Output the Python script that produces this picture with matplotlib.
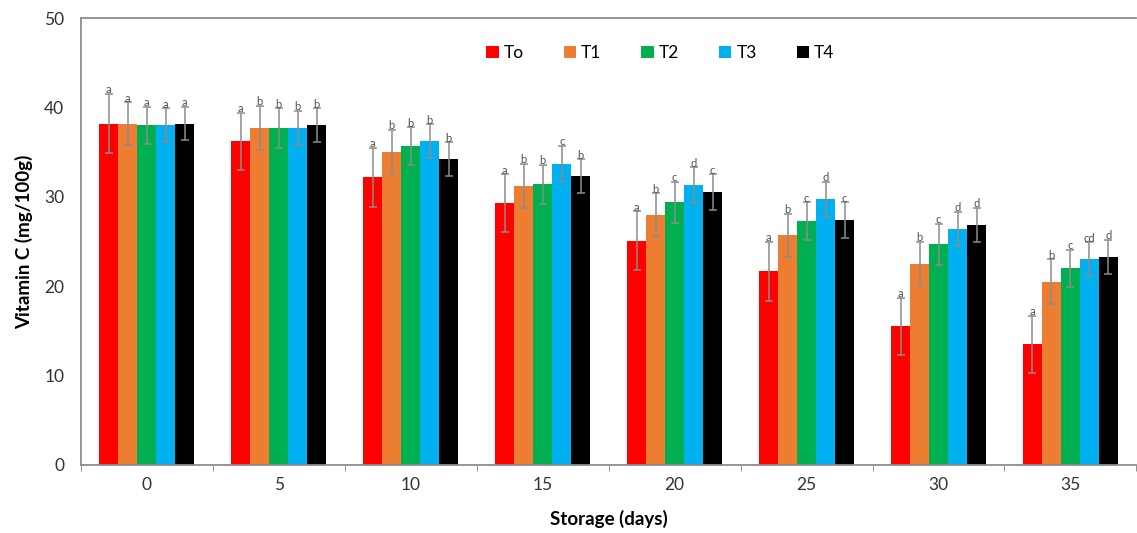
import numpy as np
import matplotlib.pyplot as plt
from matplotlib.ticker import FixedLocator

plt.rcParams['font.family'] = ['Lato', 'DejaVu Sans']

# Data
days = ["0", "5", "10", "15", "20", "25", "30", "35"]
treatments = ["To", "T1", "T2", "T3", "T4"]
colors = ["#FF0000", "#ED7D31", "#00B050", "#00B0F0", "#000000"]

t0 = [38.2, 36.2, 32.2, 29.3, 25.1, 21.7, 15.5, 13.5]
t1 = [38.2, 37.7, 35.0, 31.2, 28.0, 25.7, 22.5, 20.5]
t2 = [38.0, 37.7, 35.7, 31.4, 29.4, 27.3, 24.7, 22.0]
t3 = [38.0, 37.7, 36.2, 33.7, 31.3, 29.7, 26.4, 23.0]
t4 = [38.2, 38.0, 34.2, 32.3, 30.5, 27.4, 26.9, 23.3]

e0 = [3.3, 3.2, 3.3, 3.2, 3.3, 3.3, 3.2, 3.2]
e1 = [2.4, 2.5, 2.5, 2.5, 2.4, 2.4, 2.5, 2.5]
e2 = [2.1, 2.2, 2.1, 2.2, 2.3, 2.1, 2.3, 2.1]
e3 = [1.9, 1.9, 1.9, 2.0, 2.0, 2.0, 1.9, 1.9]
e4 = [1.9, 1.9, 1.9, 1.9, 2.0, 2.0, 1.9, 1.9]

l0 = ["a", "a", "a", "a", "a", "a", "a", "a"]
l1 = ["a", "b", "b", "b", "b", "b", "b", "b"]
l2 = ["a", "b", "b", "b", "c", "c", "c", "c"]
l3 = ["a", "b", "b", "c", "d", "d", "d", "cd"]
l4 = ["a", "b", "b", "b", "c", "c", "d", "d"]

values = [t0, t1, t2, t3, t4]
errors = [e0, e1, e2, e3, e4]
letters = [l0, l1, l2, l3, l4]

fig = plt.figure(figsize=(11.37, 5.33), dpi=100)
ax = fig.add_axes([0.0712, 0.1276, 0.9283, 0.8386])

x = np.arange(len(days))
width = 0.144
for i, name in enumerate(treatments):
    pos = x + (i - 2) * width
    ax.bar(pos, values[i], width, color=colors[i], label=name,
           yerr=errors[i], error_kw=dict(ecolor="#8c8c8c", elinewidth=1.1,
                                         capsize=3, capthick=1.1))
    for p, v, e, s in zip(pos, values[i], errors[i], letters[i]):
        ax.text(p, v + e + 0.45, s, ha="center", va="center",
                fontsize=8, color="#505050")

ax.set_xlim(-0.5, len(days) - 0.5)
ax.set_ylim(0, 50)
ax.set_yticks(range(0, 51, 10))
ax.set_xticks(x)
ax.set_xticklabels(days)
ax.xaxis.set_minor_locator(FixedLocator(np.arange(-0.5, len(days), 1.0)))
ax.tick_params(axis="x", which="major", length=0, pad=9, labelsize=12.5,
               labelcolor="#333333")
ax.tick_params(axis="x", which="minor", length=4, color="#808080")
ax.tick_params(axis="y", length=0, pad=12, labelsize=12.5, labelcolor="#333333")

for side in ["left", "bottom", "top"]:
    ax.spines[side].set_color("#8c8c8c")
    ax.spines[side].set_linewidth(1.3)
ax.spines["right"].set_visible(False)

ax.set_xlabel("Storage (days)", fontsize=13.5, fontweight="bold", labelpad=12)
ax.set_ylabel("Vitamin C (mg/100g)", fontsize=13.5, fontweight="bold", labelpad=8)

ax.legend(loc="center", bbox_to_anchor=(0.549, 0.922), ncol=5, frameon=False,
          fontsize=12.5, handlelength=0.7, handleheight=0.7, handletextpad=0.3,
          columnspacing=2.3)

fig.savefig("out.png", dpi=100)
plt.close(fig)
